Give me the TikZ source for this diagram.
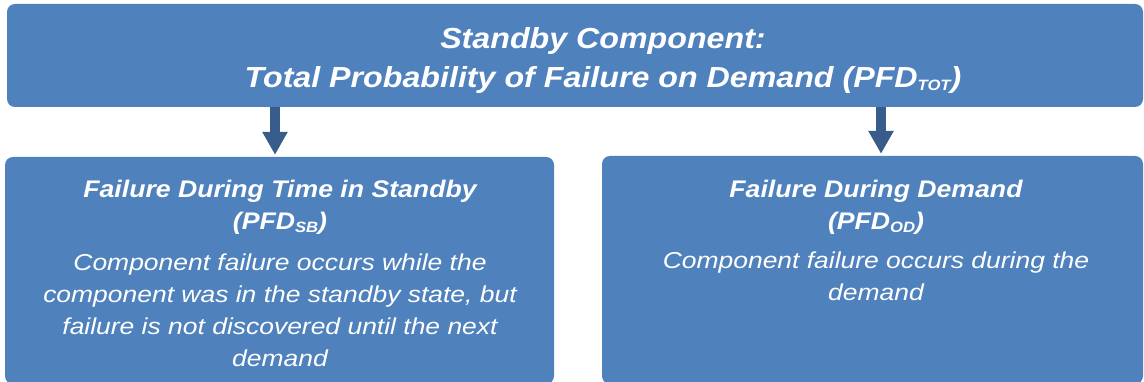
\documentclass[tikz,border=0pt]{standalone}
\usepackage{fontspec}
\setmainfont{Liberation Sans}[ItalicFeatures={FakeStretch=1.15}, BoldItalicFeatures={FakeStretch=1.11}]
\usetikzlibrary{positioning,arrows.meta}
\definecolor{boxblue}{HTML}{4F81BD}
\definecolor{arrowblue}{HTML}{385D8A}
\newcommand{\pfdsub}[1]{\raisebox{-3pt}{\fontsize{15}{15}\selectfont #1}}
\tikzset{
	panel/.style={fill=boxblue, rounded corners=8pt, inner sep=0pt},
	toptext/.style={text=white, inner sep=0pt, align=center, font=\fontsize{29}{39}\selectfont\bfseries\itshape},
	headtext/.style={text=white, inner sep=0pt, align=center, font=\fontsize{24}{32}\selectfont\bfseries\itshape},
	bodytext/.style={text=white, inner sep=0pt, align=center, font=\fontsize{23}{32}\selectfont\itshape},
	flow/.style={draw=arrowblue, line width=10pt, shorten >=2pt, -{Triangle[width=24pt,length=23pt]}}
}
\begin{document}
\begin{tikzpicture}[x=1pt,y=1pt]
	\useasboundingbox (0,0) rectangle (1144,382);
	% boxes
	\node[panel, minimum width=1136pt, minimum height=103pt] (tot) at (575,326.5) {};
	\node[panel, minimum width=549pt, minimum height=227pt] (sb) at (279.5,111.5) {};
	\node[panel, minimum width=541pt, minimum height=228pt] (od) at (872.5,112) {};
	% texts
	\node[toptext, anchor=north] (tottxt) at (603,355) {Standby Component:\\Total Probability of Failure on Demand (PFD\pfdsub{TOT})};
	\node[headtext, anchor=north] (sbhead) at (280,202) {Failure During Time in Standby\\(PFD\pfdsub{SB})};
	\node[bodytext, below=19pt of sbhead] (sbbody) {Component failure occurs while the\\component was in the standby state, but\\failure is not discovered until the next\\demand};
	\node[headtext, anchor=north] (odhead) at (876,202) {Failure During Demand\\(PFD\pfdsub{OD})};
	\node[bodytext, below=17pt of odhead] (odbody) {Component failure occurs during the\\demand};
	% arrows
	\coordinate (sbx) at (275,0);
	\coordinate (odx) at (881,0);
	\draw[flow] (tot.south -| sbx) -- (sb.north -| sbx);
	\draw[flow] (tot.south -| odx) -- (od.north -| odx);
\end{tikzpicture}
\end{document}
